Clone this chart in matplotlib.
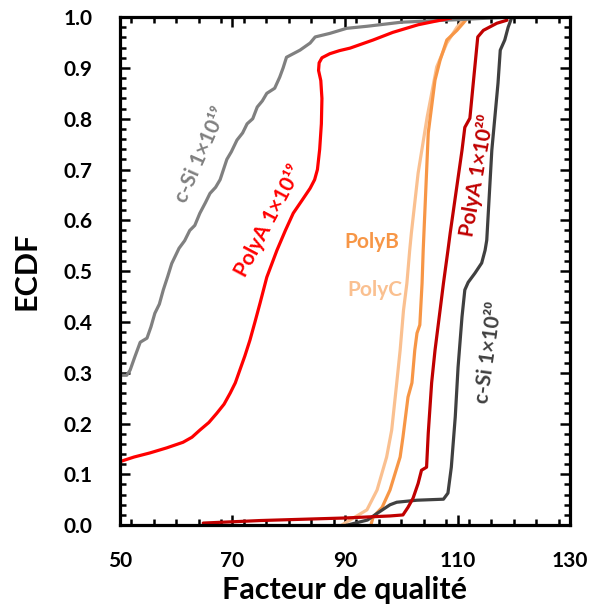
import matplotlib
matplotlib.use("Agg")
import matplotlib.pyplot as plt
from matplotlib.ticker import MultipleLocator, FixedLocator

plt.rcParams['font.family'] = ['Lato', 'DejaVu Sans']
plt.rcParams['font.weight'] = 'bold'

# ECDF curves (facteur de qualite, F)
csi19_x = [50, 51.2, 51.8, 52.6, 53.6, 54.8, 55.5, 56.2, 57.0, 57.7, 58.5, 59.2, 60.5, 61.5,
           62.4, 63.3, 64.2, 65.2, 66, 67.0, 67.8, 69, 69.8, 70.8, 71.8, 72.6, 73.6, 74.4,
           75.3, 76.1, 77.5, 78.4, 79.0, 79.6, 82, 83.8, 84.7, 87.3, 90.3, 93.9, 100, 110, 119]
csi19_y = [0.295, 0.295, 0.305, 0.33, 0.36, 0.368, 0.39, 0.417, 0.435, 0.463, 0.49, 0.515,
           0.545, 0.56, 0.58, 0.59, 0.614, 0.635, 0.653, 0.665, 0.68, 0.72, 0.735, 0.758, 0.772,
           0.79, 0.80, 0.823, 0.835, 0.85, 0.86, 0.882, 0.90, 0.921, 0.935, 0.949, 0.961, 0.968,
           0.978, 0.982, 0.99, 0.995, 1.0]

polya19_x = [50, 52.5, 55.3, 58.3, 61.2, 62.8, 64.2, 65.8, 67.2, 68.5, 69.6, 70.5, 71.3, 72.2,
             73.1, 74.0, 74.9, 76.1, 77.9, 79.4, 80.8, 82.4, 83.8, 84.6, 85.1, 85.5, 85.8, 85.9,
             85.7, 85.3, 85.4, 85.9, 87.3, 89.0, 90.9, 95, 98.5, 103, 108.7]
polya19_y = [0.125, 0.134, 0.142, 0.152, 0.163, 0.173, 0.187, 0.202, 0.22, 0.238, 0.26, 0.28,
             0.305, 0.333, 0.364, 0.40, 0.437, 0.488, 0.541, 0.58, 0.614, 0.64, 0.663, 0.68,
             0.70, 0.74, 0.79, 0.84, 0.875, 0.895, 0.91, 0.92, 0.928, 0.934, 0.939, 0.955, 0.97,
             0.985, 0.998]

polyb_x = [94.6, 95, 96.6, 98, 99.8, 100.3, 101.2, 101.9, 102.4, 102.8, 103.3, 103.7, 103.9,
           104.8, 106, 106.9, 108.1, 109.9, 111, 111.6]
polyb_y = [0.0, 0.016, 0.035, 0.069, 0.134, 0.173, 0.252, 0.28, 0.344, 0.378, 0.394, 0.476,
           0.541, 0.772, 0.876, 0.915, 0.955, 0.974, 0.988, 0.996]

polyc_x = [89.4, 93.9, 95.7, 97.4, 98.3, 99.2, 99.8, 100.4, 101, 101.5, 101.8, 103, 104.6,
           106.3, 108.1, 109.9, 111]
polyc_y = [0.0, 0.03, 0.069, 0.134, 0.187, 0.28, 0.344, 0.423, 0.476, 0.541, 0.575, 0.693,
           0.803, 0.902, 0.949, 0.98, 0.994]

polya20_x = [64.8, 75, 90, 98, 100.3, 101.2, 102.1, 103, 103.6, 104.5, 104.8, 105.4, 106,
             106.9, 107.5, 108.3, 108.7, 110.8, 111.3, 112.2, 112.8, 113.6, 114.6, 117, 118.8]
polya20_y = [0.004, 0.009, 0.014, 0.018, 0.02, 0.035, 0.053, 0.082, 0.108, 0.114, 0.181, 0.28,
             0.344, 0.423, 0.476, 0.541, 0.575, 0.738, 0.783, 0.801, 0.87, 0.961, 0.974, 0.988,
             0.994]

csi20_x = [90.4, 94, 95.7, 98, 99.2, 102.8, 107.5, 108.3, 108.9, 109.6, 110.1, 110.8, 111.3,
           111.9, 113.1, 114.3, 114.9, 115.2, 116.1, 117.2, 117.6, 118.4, 119, 119.6]
csi20_y = [0.0, 0.01, 0.023, 0.04, 0.045, 0.049, 0.051, 0.063, 0.114, 0.213, 0.311, 0.41,
           0.463, 0.478, 0.496, 0.516, 0.541, 0.561, 0.738, 0.87, 0.935, 0.955, 0.98, 0.998]

x_ticks = [50, 70, 90, 110, 130]

fig = plt.figure(figsize=(5.91, 6.12), dpi=100)
ax = fig.add_axes([0.203, 0.142, 0.7615, 0.830])

lw = 2.3
ax.plot(polyc_x, polyc_y, color='#FAC090', lw=lw)
ax.plot(polyb_x, polyb_y, color='#F79646', lw=lw)
ax.plot(csi20_x, csi20_y, color='#404040', lw=lw)
ax.plot(polya20_x, polya20_y, color='#C00000', lw=lw, solid_capstyle='round')
ax.plot(csi19_x, csi19_y, color='#808080', lw=lw)
ax.plot(polya19_x, polya19_y, color='#FF0000', lw=lw)

# curve labels
lab = dict(ha='center', va='center', rotation_mode='anchor')
ax.text(64.4, 0.728, 'c-Si 1×10¹⁹', color='#808080', fontsize=15, rotation=66, **lab)
ax.text(76.5, 0.60, 'PolyA 1×10¹⁹', color='#FF0000', fontsize=15, rotation=62, **lab)
ax.text(94.8, 0.557, 'PolyB', color='#F79646', fontsize=15, **lab)
ax.text(95.3, 0.463, 'PolyC', color='#FAC090', fontsize=15, **lab)
ax.text(113.5, 0.689, 'PolyA 1×10²⁰', color='#C00000', fontsize=15, rotation=80, **lab)
ax.text(115.6, 0.34, 'c-Si 1×10²⁰', color='#404040', fontsize=15, rotation=82, **lab)

ax.set_xlim(50, 130)
ax.set_ylim(0, 1)
ax.xaxis.set_major_locator(FixedLocator(x_ticks))
ax.xaxis.set_minor_locator(MultipleLocator(4))
ax.yaxis.set_major_locator(MultipleLocator(0.1))
ax.yaxis.set_minor_locator(MultipleLocator(0.02))
ax.set_xticklabels([str(v) for v in x_ticks])
ax.set_yticklabels([f'{v:.1f}' for v in ax.get_yticks()])

ax.tick_params(which='both', direction='in', top=True, right=True, width=1.8,
               labelsize=15, color='black')
ax.tick_params(which='major', length=7)
ax.tick_params(which='minor', length=4.5)
ax.tick_params(axis='x', which='major', pad=19)
ax.tick_params(axis='y', which='major', pad=20)
for s in ax.spines.values():
    s.set_linewidth(2.3)

ax.set_xlabel('Facteur de qualité', fontsize=22, fontweight='bold', labelpad=3)
ax.set_ylabel('ECDF', fontsize=22, fontweight='bold', labelpad=16)

fig.savefig('out.png', dpi=100)
